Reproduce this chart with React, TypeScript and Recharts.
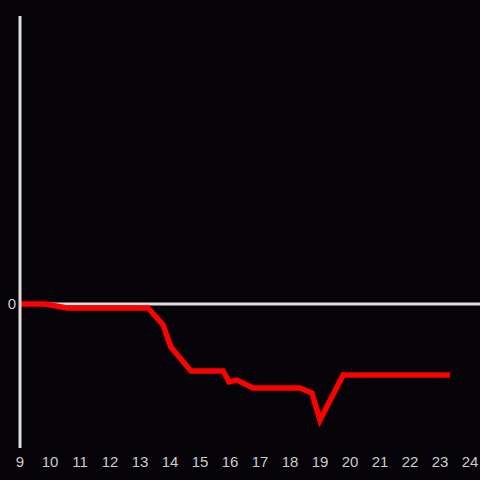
import React from "react";
import { LineChart, Line, XAxis, YAxis, ReferenceLine } from "recharts";

const hours = [9.0, 9.83, 10.57, 13.27, 13.77, 14.03, 14.7, 15.77, 15.97, 16.23, 16.77, 18.33, 18.73, 19.0, 19.77, 23.33];
const values = [0, 0, -0.028, -0.028, -0.146, -0.299, -0.465, -0.465, -0.54, -0.528, -0.583, -0.583, -0.618, -0.806, -0.493, -0.493];
const xTicks = [9, 10, 11, 12, 13, 14, 15, 16, 17, 18, 19, 20, 21, 22, 23, 24];
const yTicks = [0];

const data = hours.map((h, i) => ({ h, v: values[i] }));

export default function App() {
  return (
    <div style={{ position: "fixed", left: 0, top: 0, width: 480, height: 480, background: "#050307" }}>
      <LineChart width={480} height={480} data={data} margin={{ top: 16, right: 0, bottom: 0, left: 0 }}>
        <XAxis
          dataKey="h"
          type="number"
          domain={[9, 24 + 1 / 3]}
          ticks={xTicks}
          allowDataOverflow
          axisLine={false}
          tickLine={false}
          height={32}
          interval={0}
          tick={{ fill: "#cccccc", fontSize: 15, fontFamily: "Liberation Sans, Arial, sans-serif" }}
        />
        <YAxis
          type="number"
          domain={[-1, 2]}
          ticks={yTicks}
          width={20}
          axisLine={{ stroke: "#dddddd", strokeWidth: 3 }}
          tickLine={false}
          tickSize={0}
          tickMargin={4}
          tick={{ fill: "#cccccc", fontSize: 15, fontFamily: "Liberation Sans, Arial, sans-serif" }}
        />
        <ReferenceLine y={0} stroke="#dddddd" strokeWidth={3} />
        <Line
          dataKey="v"
          type="linear"
          stroke="#ff0000"
          strokeWidth={5.5}
          dot={false}
          isAnimationActive={false}
        />
      </LineChart>
    </div>
  );
}
